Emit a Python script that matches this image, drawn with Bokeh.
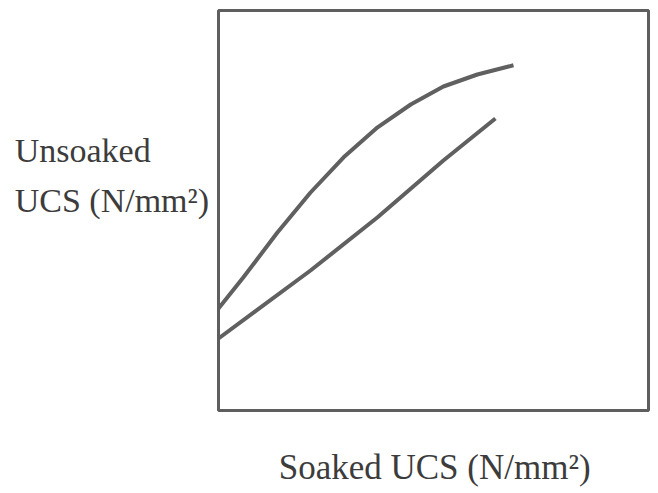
from bokeh.plotting import figure
from bokeh.models import Label, Range1d, BoxAnnotation
from bokeh.embed import file_html
from bokeh.resources import INLINE

# Curve 1 (concave) : soaked vs unsoaked UCS
curve_x = [0, 0.58, 1.37, 2.14, 2.91, 3.70, 4.47, 5.23, 6.02, 6.86]
curve_y = [2.55, 3.33, 4.45, 5.45, 6.33, 7.08, 7.65, 8.1, 8.4, 8.63]

# Curve 2 (nearly straight)
line_x = [0, 2.14, 3.70, 5.23, 6.44]
line_y = [1.8, 3.5, 4.83, 6.25, 7.3]

y_label_lines = ["Unsoaked", "UCS (N/mm²)"]
x_label = "Soaked UCS (N/mm²)"

p = figure(width=650, height=490, output_backend="svg", toolbar_location=None,
           x_range=Range1d(-218 / 43, 432 / 43), y_range=Range1d(-80 / 40, 410 / 40),
           min_border=0)
p.axis.visible = False
p.grid.visible = False
p.outline_line_color = None
p.background_fill_color = "white"
p.border_fill_color = "white"

# chart box
p.add_layout(BoxAnnotation(left=0, right=10, bottom=0, top=10, fill_alpha=0,
                           line_color="#5e5e5e", line_alpha=1, line_width=3))

p.line(curve_x, curve_y, line_color="#606060", line_width=4)
p.line(line_x, line_y, line_color="#606060", line_width=4)

font = "Liberation Serif"
col = "#3c3c3c"
p.add_layout(Label(x=-4.74, y=6.5, text=y_label_lines[0], text_font=font,
                   text_font_size="34px", text_color=col, text_baseline="alphabetic"))
p.add_layout(Label(x=-4.74, y=5.25, text=y_label_lines[1], text_font=font,
                   text_font_size="34px", text_color=col, text_baseline="alphabetic"))
p.add_layout(Label(x=1.40, y=-1.42, text=x_label, text_font=font,
                   text_font_size="35px", text_color=col, text_baseline="alphabetic"))

open("out.html", "w").write(file_html(p, INLINE))
